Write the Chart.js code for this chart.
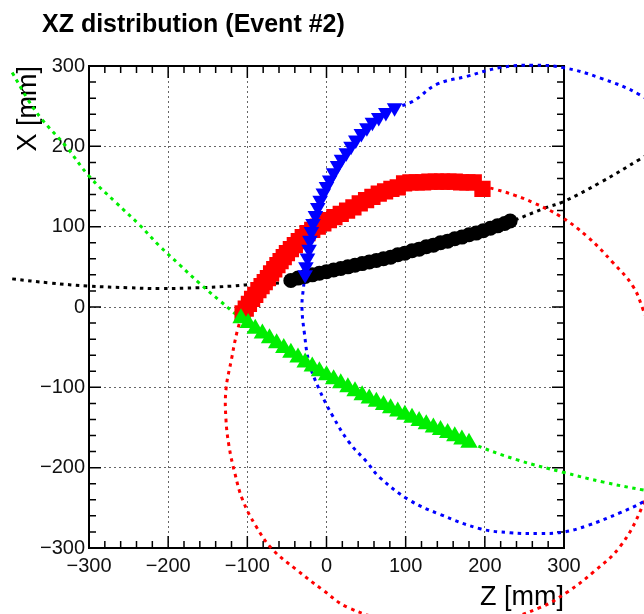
<!DOCTYPE html>
<html>
<head>
<meta charset="utf-8">
<title>XZ distribution (Event #2)</title>
<script src="https://cdn.jsdelivr.net/npm/chart.js@4.4.1/dist/chart.umd.min.js"></script>
<style>
    html, body { margin: 0; padding: 0; background: #fff; }
    #wrap { width: 644px; height: 614px; }
</style>
</head>
<body>
<div id="wrap"><canvas id="xzChart" width="644" height="614"></canvas></div>
<script>
const TITLE = 'XZ distribution (Event #2)';
const X_TITLE = 'Z [mm]';
const Y_TITLE = 'X [mm]';
const AXIS_MIN = -300;
const AXIS_MAX = 300;
const MAJOR_STEP = 100;
const MINOR_STEP = 20;

// hits of each track (Z, X in mm)
const redHitsZ = [-106, -102, -98, -94, -90, -86, -82, -78, -74, -70, -66, -62, -58, -54, -50, -45, -40, -35, -30, -24, -18, -11, -4, 3, 10, 18, 26, 34, 42, 50, 58, 66, 74, 82, 90, 98, 106, 114, 122, 130, 138, 146, 154, 162, 170, 178, 186, 197];
const redHitsX = [-8, -2, 4, 10, 15, 21, 26, 31, 36, 42, 47, 52, 57, 62, 67, 72, 77, 82, 87, 92, 96, 100, 104, 108, 112, 116, 120, 124, 129, 133, 137, 141, 144, 147, 149, 154, 155, 155, 155, 156, 156, 156, 156, 156, 155, 155, 155, 147];

const blueHitsZ = [-27, -26, -24, -22, -21, -19, -17, -14, -11, -8, -4, 0, 4, 9, 14, 19, 25, 31, 37, 44, 51, 58, 66, 75, 86];
const blueHitsX = [40, 50, 61, 72, 83, 94, 104, 114, 124, 133, 142, 150, 158, 167, 176, 184, 192, 200, 208, 216, 223, 230, 236, 242, 248];

const greenHitsZ = [-108, -99, -90, -81, -72, -63, -54, -45, -36, -27, -18, -9, 0, 9, 18, 27, 36, 45, 54, 63, 72, 81, 90, 99, 108, 117, 126, 135, 144, 153, 162, 171, 180];
const greenHitsX = [-14, -20, -27, -33, -39, -45, -51, -57, -63, -69, -74, -80, -85, -90, -95, -100, -105, -110, -114, -118, -122, -126, -130, -134, -138, -142, -146, -150, -153, -157, -161, -165, -169];

const blackHitsZ = [-45, -36, -27, -18, -9, 0, 9, 18, 27, 36, 45, 54, 63, 72, 81, 90, 99, 108, 117, 126, 135, 144, 153, 162, 171, 180, 189, 198, 207, 216, 225, 232];
const blackHitsX = [33, 36, 38, 40, 42, 44, 46, 48, 50, 52, 54, 56, 58, 60, 62, 65, 67, 70, 72, 75, 77, 80, 82, 85, 87, 90, 92, 95, 98, 101, 104, 107];

// fitted track curves (dotted)
const redFitZ = [197, 215, 238, 261, 295, 329, 362, 387, 399, 418, 427, 418, 399, 371, 337, 304, 270, 210, 150, 90, 27, -5, -38, -68, -89, -106, -116, -123, -127, -127, -120, -113, -106];
const redFitX = [150, 146, 139, 130, 113, 88, 55, 26, -1, -55, -122, -190, -248, -298, -330, -355, -374, -393, -400, -393, -374, -352, -327, -302, -273, -240, -206, -174, -140, -103, -65, -31, -8];

const blueFitZ = [86, 109, 139, 177, 219, 261, 299, 346, 396, 440, 500, 540, 500, 440, 399, 371, 330, 300, 270, 232, 194, 143, 104, 67, 51, 29, 8, -9, -22, -28, -31, -29, -27];
const blueFitX = [248, 256, 277, 287, 298, 301, 298, 285, 264, 232, 170, 0, -160, -215, -243, -256, -272, -280, -282, -281, -276, -258, -240, -212, -193, -169, -136, -103, -69, -32, 0, 25, 40];

const greenFitZ = [-397, -377, -359, -329, -300, -266, -237, -211, -185, -161, -135, -108, -54, 0, 54, 108, 181, 240, 300, 350, 401, 430];
const greenFitX = [292, 258, 233, 200, 163, 130, 103, 76, 52, 30, 8, -14, -51, -85, -114, -138, -169, -190, -206, -218, -228, -233];

const blackFitZ = [-397, -350, -300, -250, -211, -161, -120, -97, -56, -41, 0, 51, 101, 152, 197, 232, 278, 299, 346, 396, 430];
const blackFitX = [35, 30, 26, 24, 23, 24, 26, 28, 30, 32, 43, 55, 66, 81, 94, 106, 124, 131, 155, 184, 204];

const RED = '#ff0000';
const BLUE = '#0000ff';
const GREEN = '#00ee00';
const BLACK = '#000000';

function toPoints(zs, xs) {
    return zs.map((z, i) => ({ x: z, y: xs[i] }));
}

function hits(zs, xs, color, style, radius, rotation) {
    return {
        data: toPoints(zs, xs),
        showLine: false,
        pointStyle: style,
        pointRadius: radius,
        pointRotation: rotation || 0,
        backgroundColor: color,
        borderColor: color,
        borderWidth: 0,
        pointHoverRadius: radius
    };
}

function fit(zs, xs, color) {
    return {
        data: toPoints(zs, xs),
        showLine: true,
        pointRadius: 0,
        borderColor: color,
        borderWidth: 3,
        borderDash: [3.5, 4.5],
        tension: 0.4,
        capBezierPoints: false,
        clip: false
    };
}

function tickText(v) {
    return v < 0 ? '\u2212' + Math.abs(v) : String(v);
}

// fixed frame range, set after data limits so the curves are not trimmed at the frame
function fixRange(scale) {
    scale.min = AXIS_MIN;
    scale.max = AXIS_MAX;
}

// ROOT style frame with inward ticks on all four sides, plus the pad title
const rootFrame = {
    id: 'rootFrame',
    beforeDatasetsDraw(chart) {
        const { ctx, chartArea: a, scales: { x, y } } = chart;
        ctx.save();
        ctx.strokeStyle = '#000';
        ctx.lineWidth = 1.5;
        ctx.beginPath();
        for (let v = AXIS_MIN; v <= AXIS_MAX; v += MINOR_STEP) {
            const len = v % MAJOR_STEP === 0 ? 12 : 7;
            const px = x.getPixelForValue(v);
            const py = y.getPixelForValue(v);
            ctx.moveTo(px, a.bottom); ctx.lineTo(px, a.bottom - len);
            ctx.moveTo(px, a.top); ctx.lineTo(px, a.top + len);
            ctx.moveTo(a.left, py); ctx.lineTo(a.left + len, py);
            ctx.moveTo(a.right, py); ctx.lineTo(a.right - len, py);
        }
        ctx.stroke();
        ctx.lineWidth = 2;
        ctx.strokeRect(a.left, a.top, a.right - a.left, a.bottom - a.top);
        ctx.restore();
    },
    afterDraw(chart) {
        const ctx = chart.ctx;
        ctx.save();
        ctx.fillStyle = '#000';
        ctx.font = 'bold 25px "Liberation Sans", Arial, sans-serif';
        ctx.textBaseline = 'alphabetic';
        ctx.fillText(TITLE, 42, 32);
        ctx.restore();
    }
};

const axisFont = { family: '"Liberation Sans", Arial, sans-serif', size: 20 };
const titleFont = { family: '"Liberation Sans", Arial, sans-serif', size: 27 };

new Chart(document.getElementById('xzChart'), {
    type: 'scatter',
    data: {
        datasets: [
            hits(blueHitsZ, blueHitsX, BLUE, 'triangle', 9, 180),
            hits(greenHitsZ, greenHitsX, GREEN, 'triangle', 10),
            hits(redHitsZ, redHitsX, RED, 'rect', 11.5),
            hits(blackHitsZ, blackHitsX, BLACK, 'circle', 7.5),
            fit(blueFitZ, blueFitX, BLUE),
            fit(greenFitZ, greenFitX, GREEN),
            fit(redFitZ, redFitX, RED),
            fit(blackFitZ, blackFitX, BLACK)
        ]
    },
    options: {
        responsive: false,
        animation: false,
        layout: { padding: { left: 12, top: 66, right: 80, bottom: 0 } },
        plugins: {
            legend: { display: false },
            tooltip: { enabled: false },
            title: { display: false }
        },
        scales: {
            x: {
                type: 'linear',
                afterDataLimits: fixRange,
                afterFit: s => { s.height = 66; },
                grid: { color: '#666', lineWidth: 1, drawTicks: false },
                border: { display: false, dash: [2, 3] },
                ticks: {
                    stepSize: MAJOR_STEP,
                    padding: 6,
                    maxRotation: 0,
                    autoSkip: false,
                    color: '#111',
                    font: axisFont,
                    callback: tickText
                },
                title: {
                    display: true,
                    text: X_TITLE,
                    align: 'end',
                    color: '#000',
                    font: titleFont,
                    padding: { top: 0, bottom: 0 }
                }
            },
            y: {
                type: 'linear',
                afterDataLimits: fixRange,
                afterFit: s => { s.width = 77; },
                grid: { color: '#666', lineWidth: 1, drawTicks: false },
                border: { display: false, dash: [2, 3] },
                ticks: {
                    stepSize: MAJOR_STEP,
                    padding: 4,
                    autoSkip: false,
                    color: '#111',
                    font: axisFont,
                    callback: tickText
                },
                title: {
                    display: true,
                    text: Y_TITLE,
                    align: 'end',
                    color: '#000',
                    font: titleFont,
                    padding: { top: 0, bottom: 0 }
                }
            }
        }
    },
    plugins: [rootFrame]
});
</script>
</body>
</html>
